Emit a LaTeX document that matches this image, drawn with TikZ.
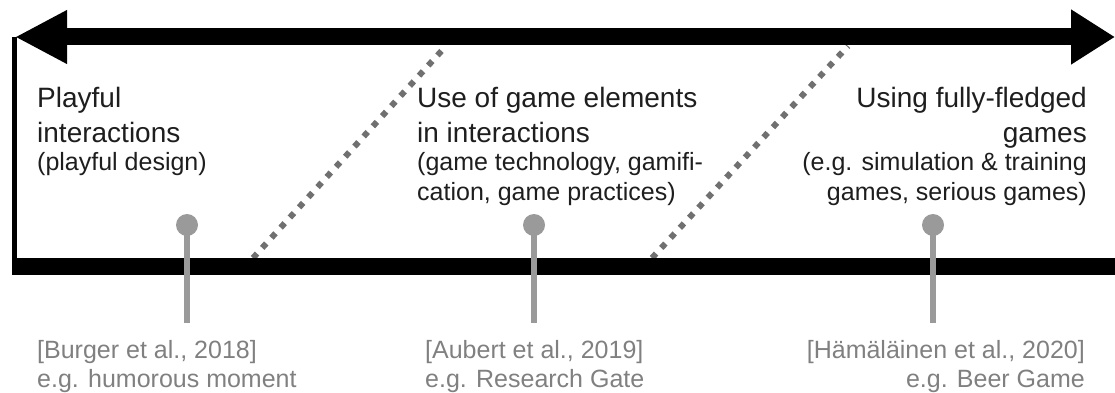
\documentclass[tikz,border=0pt]{standalone}
\usepackage{fontspec}
\setmainfont{Liberation Sans}
\usetikzlibrary{arrows.meta, positioning}

\definecolor{ink}{HTML}{1E1E1E}
\definecolor{dotgray}{HTML}{707070}
\definecolor{pingray}{HTML}{9A9A9A}
\definecolor{refgray}{HTML}{808080}

\begin{document}
\begin{tikzpicture}[x=1pt, y=-1pt,
    title/.style={inner sep=0, text=ink, font=\fontsize{28}{34}\selectfont},
    sub/.style={inner sep=0, text=ink, font=\fontsize{25}{30}\selectfont},
    ref/.style={inner sep=0, text=refgray, font=\fontsize{25}{29}\selectfont},
    pinhead/.style={circle, fill=pingray, inner sep=0, minimum size=22pt},
    stem/.style={draw=pingray, line width=6pt},
    border/.style={draw=black, line width=17pt},
    divider/.style={draw=dotgray, line width=6pt, dash pattern=on 6pt off 7.7pt}]
			\useasboundingbox (0,0) rectangle (1115,393);

			% Corner points of the frame
			\coordinate (TopL) at (15,37);
			\coordinate (TopR) at (1115,37);
			\coordinate (BotL) at (12,266);
			\coordinate (BotR) at (1115,266);
			\coordinate (SideT) at (14.5,37);
			\coordinate (SideB) at (14.5,266);

			% Dotted dividers between the three zones
			\coordinate (DivA0) at (253,258);
			\coordinate (DivA1) at (446,46);
			\coordinate (DivB0) at (652,258);
			\coordinate (DivB1) at (848,46);
			\draw[divider] (DivA0) -- (DivA1);
			\draw[divider] (DivB0) -- (DivB1);

			% Double arrow on top, frame on the left and at the bottom
			\draw[border, {Triangle[length=52pt, width=50pt]}-{Triangle[length=44pt, width=52pt]}] (TopL) -- (TopR);
			\draw[draw=black, line width=5pt] (SideT) -- (SideB);
			\draw[border] (BotL) -- (BotR);

			% Zone labels
			\node[title, anchor=base west] (PlayT) at (37,108) {Playful};
			\node[title, anchor=base west] (PlayT2) at (37,142) {interactions};
			\node[sub, anchor=base west] (PlayS) at (37,170) {(playful design)};

			\node[title, anchor=base west] (ElemT) at (417,108) {Use of game elements};
			\node[title, anchor=base west] (ElemT2) at (417,142) {in interactions};
			\node[sub, anchor=base west] (ElemS) at (417,170) {(game technology, gamifi-};
			\node[sub, anchor=base west] (ElemS2) at (417,200) {cation, game practices)};

			\node[title, anchor=base east] (GameT) at (1087,108) {Using fully-fledged};
			\node[title, anchor=base east] (GameT2) at (1087,142) {games};
			\node[sub, anchor=base east] (GameS) at (1087,170) {(e.g. simulation \& training};
			\node[sub, anchor=base east] (GameS2) at (1087,200) {games, serious games)};

			% Example pins
			\node[pinhead] (PinA) at (187,225) {};
			\node[pinhead] (PinB) at (534,225) {};
			\node[pinhead] (PinC) at (933,225) {};
			\coordinate (FootA) at (187,323);
			\coordinate (FootB) at (534,323);
			\coordinate (FootC) at (933,323);
			\draw[stem] (PinA.center) -- (FootA);
			\draw[stem] (PinB.center) -- (FootB);
			\draw[stem] (PinC.center) -- (FootC);

			% References below the pins
			\node[ref, anchor=base west] (RefA) at (37,358) {[Burger et al., 2018]};
			\node[ref, anchor=base west] (RefA2) at (37,387) {e.g. humorous moment};
			\node[ref, anchor=base west] (RefB) at (425,358) {[Aubert et al., 2019]};
			\node[ref, anchor=base west] (RefB2) at (425,387) {e.g. Research Gate};
			\node[ref, anchor=base east] (RefC) at (1085,358) {[Hämäläinen et al., 2020]};
			\node[ref, anchor=base east] (RefC2) at (1085,387) {e.g. Beer Game};

		\end{tikzpicture}
\end{document}
